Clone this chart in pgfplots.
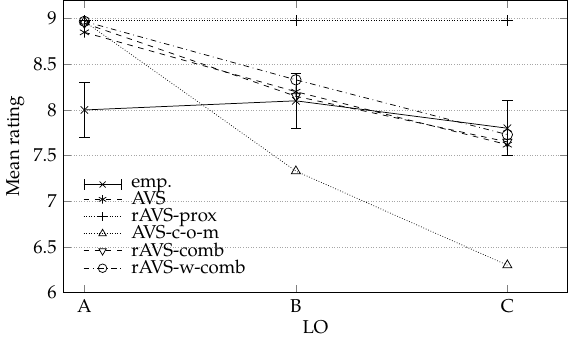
\documentclass[border=0pt]{standalone}
\usepackage{pgfplots}
\pgfplotsset{compat=1.18}
\usepackage{fontspec}
\setmainfont{TeX Gyre Pagella}
\begin{document}
\begin{tikzpicture}
\begin{axis}[
  scale only axis,
  width=271pt, height=157pt,
  xmin=-0.1, xmax=2.285,
  ymin=6, ymax=9.2,
  xtick={0,1,2}, xticklabels={A,B,C},
  ytick={6,6.5,7,7.5,8,8.5,9},
  yticklabels={6,6.5,7,7.5,8,8.5,9},
  ymajorgrids,
  major grid style={densely dotted, gray!70},
  xlabel={LO}, ylabel={Mean rating},
  xlabel style={yshift=3pt},
  ylabel style={yshift=-2pt},
  /pgf/number format/assume math mode=true,
  legend style={draw=none, fill=none, at={(0.035,0.035)}, anchor=south west,
    row sep=-3.4pt, inner sep=1pt,
    /tikz/every odd column/.append style={column sep=3pt}},
  legend cell align=left,
  legend image code/.code={\draw[mark repeat=2,mark phase=2, mark size=2.3pt] plot coordinates {(0cm,0cm) (0.36cm,0cm) (0.72cm,0cm)};},
  mark size=2.8pt,
]
\addplot[black, solid, mark=x, mark options={solid},
  legend image code/.code={\draw[|-|, solid] (0cm,0cm) -- (0.72cm,0cm); \draw[mark repeat=2,mark phase=2, mark size=2.3pt] plot coordinates {(0cm,0cm) (0.36cm,0cm) (0.72cm,0cm)};},
  error bars/.cd, y dir=both, y explicit, error bar style={solid, black},
  error mark options={rotate=90, black}]
  coordinates {(0,8.0) +- (0,0.3) (1,8.1) +- (0,0.3) (2,7.8) +- (0,0.3)};
\addplot[black, dashed, mark=asterisk, mark options={solid}] coordinates {(0,8.85) (1,8.2) (2,7.62)};
\addplot[black, densely dotted, mark=+, mark options={solid}] coordinates {(0,8.98) (1,8.98) (2,8.98)};
\addplot[black, densely dotted, mark=triangle, mark options={solid}] coordinates {(0,8.97) (1,7.33) (2,6.3)};
\addplot[black, dashed, mark=triangle, mark options={solid, rotate=180}] coordinates {(0,8.95) (1,8.15) (2,7.65)};
\addplot[black, dashdotted, mark=o, mark options={solid}] coordinates {(0,8.97) (1,8.33) (2,7.73)};
\legend{emp.,AVS,rAVS-prox,AVS-c-o-m,rAVS-comb,rAVS-w-comb}
\end{axis}
\end{tikzpicture}
\end{document}
